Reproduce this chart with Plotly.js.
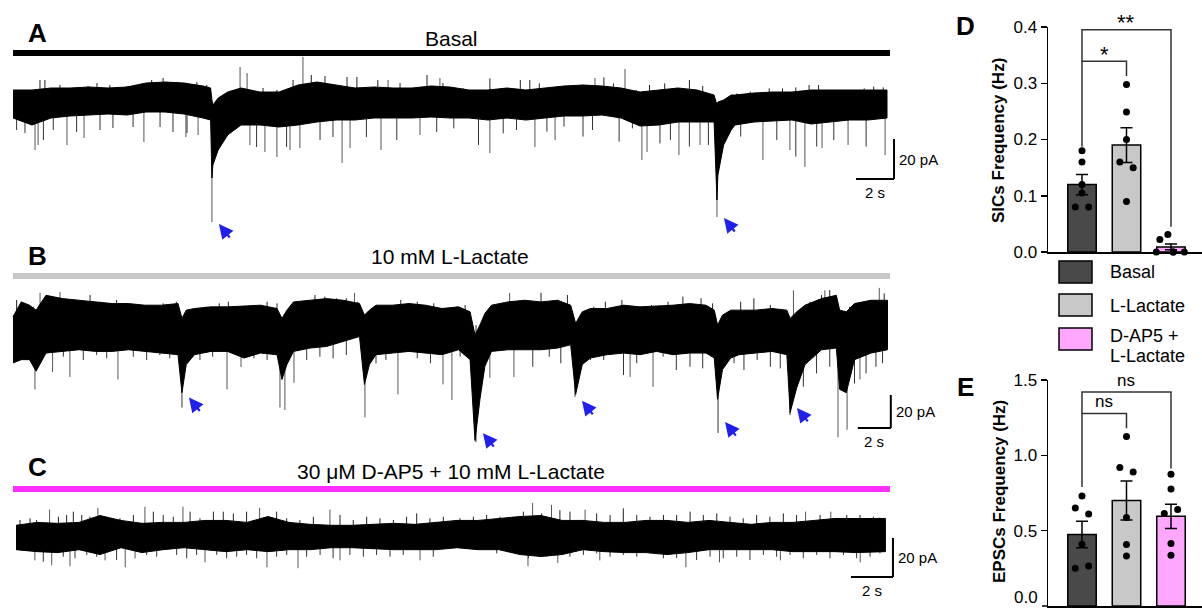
<!DOCTYPE html>
<html>
<head>
<meta charset="utf-8">
<script src="https://cdn.plot.ly/plotly-3.0.1.min.js"></script>
<style>html,body{margin:0;padding:0;background:#fff;}#chart{width:1202px;height:611px;}</style>
</head>
<body>
<div id="chart"></div>
<script>
// ---------------- DATA ----------------
// Panel A (Basal) trace envelope: time (s), upper / lower edge (pA)
const aT   = [0,1,2,3,4,5,6,7,8,9,10,10.4,10.47,10.52,10.8,11.3,12,13,14,15,16,17,18,19,20,21,22,23,24,25,26,27,28,29,30,31,32,33,34,35,36,36.9,37.05,37.1,37.4,37.8,38,39,40,41,42,43,44,45,46];
const aTop = [7,7,8,8,8.5,8,8.5,10.5,11,10.5,9,8,2,-0.5,3,6,8,6,6,9.5,11,9.5,8,8.5,8,8,9,8.5,7,7,8,7,8,9,9.5,9,8,6,7,8,7,4.5,-0.5,1,2,4.5,4.5,5.5,6,6,7,7,7,7,7];
const aBot = [-7,-10.5,-7,-6,-5.5,-5,-5.5,-4,-4,-5,-7,-8,-37,-30.5,-23,-15.5,-10.5,-10.5,-11.5,-10.5,-9,-8,-8,-7,-7,-7,-6.5,-7,-7,-8,-7,-8,-7,-6,-6,-5.5,-7,-11,-10.5,-9,-9,-9,-48,-35.5,-20.5,-13,-10.5,-9,-8.5,-8,-10,-9,-8,-8,-7];
// large individual events (time s, peak pA)
const aDownT = [1.16,1.32,2.84,3.74,6.89,9.1,9.74,12.47,13.26,13.89,14.58,15.1,17.32,17.74,19.37,21.42,25.1,27.47,28.53,33.1,33.37,35.05,36.16,39.47,40.89,41.68,42.58,43.95,45.9];
const aDownA = [-23,-20.5,-20.5,-17,-19,-16.5,-15.5,-20.5,-24,-26.5,-23,-22,-29.5,-22,-23,-15.5,-24.5,-21.5,-18,-28,-24,-25.5,-20.5,-28,-23,-31.5,-22,-20.5,-25.5];
const aUpT = [11.95,12.32,15.26,19.74,22.47,30.63,32.21];
const aUpA = [18.5,15.5,23.5,12,13,13,17.5];
// small noise peaks along the edges
const aEdgeUpT = [1.42,1.68,2.47,3.53,3.95,4.42,5.1,6,6.68,7.3,7.9,8.63,9.16,9.68,10.2,13.16,13.89,14.74,15.7,16.42,17.58,18.1,19.2,20.37,21.79,22.63,23.7,25.1,25.9,26.7,27.2,27.7,28.8,29.7,31.1,31.6,32.8,33.5,34.3,35.1,35.6,36.3,38.1,38.8,39.8,40.5,41.2,41.9,42.4,43.4,44.8,45.3,45.8];
const aEdgeUpA = [12,12,9.5,8.5,9,10.5,9.5,9,9.5,12,13,11,10.5,11,9.5,8,7,12,14.5,14,13.5,13.5,12,10.5,14.5,10.5,7.8,12.8,7.8,12,12,10.3,7.8,8.7,13.3,10.3,7,9.5,10.3,7.8,12,9,5.3,6.2,7.8,7.8,8.3,9.5,9.5,7,7.8,8.7,8.3];
const aEdgeDnT = [0.19,0.63,1.6,2.12,3.35,4.58,5.26,6.32,7.74,8.42,9.16,12.82,14.4,16.16,16.84,18.6,20.2,22.3,23.2,24.5,25.8,26.5,28.1,29,30,30.5,31.9,32.6,34.05,34.6,35.6,36.6,37.7,38.3,40.2,41.2,42.3,43.2,44.9];
const aEdgeDnA = [-13,-14.5,-18,-13,-14,-13,-12,-11.5,-11.5,-14,-14.5,-21.5,-21.5,-18,-16.5,-16.5,-18,-14,-12.2,-20.5,-14.7,-13,-13.8,-11.3,-16.3,-13,-18.8,-12.2,-19.7,-18,-21.3,-20.5,-14.7,-16.3,-18,-26.3,-21.3,-18,-21.3];
const aSicT = [10.47,37.05];
const aSicA = [-59,-56.5];

// Panel B (10 mM L-Lactate)
const bT   = [0,0.5,1,1.4,2,3,4,5,6,7,8,9,10,10.24,10.5,11,12,13,14,15,16,16.3,16.6,17,18,19,20,21,21.3,21.6,22,23,24,25,26,27,27.7,28,28.3,28.6,29,30,31,32,33,33.8,34.1,34.5,35,36,37,38,39,40,41,42,42.5,42.7,43,43.5,44,45,46,46.9,47.1,47.5,48,49,49.9,50.1,50.5,51,52,53];
const bTop = [5,14,12,9,18,16,15,14,13,13,12,12,13,4,9,10,11,11,11.5,12,10,4,9,14,15,16,15,13,6,9,12,12,13,12,10,11,8,-6,0,7,12,14,15,14,15,12,1,8,10,10,12,11,11.5,12,13,12,9,0,6,9,9,9,10,9,4,8,12,16,18,9,8,13,15,15];
const bBot = [-23,-21,-21,-28,-17,-16,-15,-16,-16,-15,-16,-17,-18,-41,-24,-18,-16,-16,-20,-17,-18,-33,-24,-16,-14,-13,-10,-7,-36,-24,-18,-17,-16,-17,-18,-15,-21,-70,-45,-25,-16,-15,-15,-15,-14,-12,-42,-24,-20,-18,-17,-18,-16,-18,-17,-17,-20,-45,-27,-20,-18,-17,-16,-18,-53,-38,-24,-15,-14,-39,-41,-21,-17,-15];
const bDownT = [1.33,2.4,3.45,6.36,12.97,13.82,16.18,16.48,17.03,21.33,23.33,26.06,26.6,28.9,30.36,37.4,38.79,50,50.55,51.33];
const bDownA = [-39,-28.5,-31.5,-33,-39,-25.5,-50,-51.5,-35,-56,-42,-36,-45.5,-32,-31.5,-31.5,-37.5,-68,-63.5,-33];
const bUpT = [1.64,2.85,20.7,30.1,47.3,49.2,52.5];
const bUpA = [19.5,20,19.5,19.5,21,21,22.5];
const bEdgeUpT = [0.22,0.73,1.23,2.04,3.35,3.96,4.67,5.27,5.88,6.28,6.89,7.7,8.4,9.1,9.9,10.9,11.7,12.5,13.05,13.76,14.6,15.4,16,17,17.6,18.3,18.9,19.6,20.2,20.9,21.8,22.6,23.5,24.5,25.5,26.9,27.4,29.1,30.8,32,32.5,33.6,34.6,35.2,35.9,36.9,37.8,38.7,39.7,40.6,41.7,42.4,43.3,44.1,44.9,45.9,46.7,47.7,48.3,49,49.5,50.7,51.5,52.8];
const bEdgeUpA = [15.2,13.1,11.1,18.2,14.1,13.1,18.2,14.1,13.1,15.2,13.1,12.1,11.1,13.1,14.1,8.1,11.1,13.1,14.1,11.1,12.1,14.1,13.1,11.1,13.1,18.2,17.2,16.2,16.2,14.1,8.1,12.1,15.2,14.1,13.1,11.1,12.1,11.1,13.1,19.6,13.1,18.2,8.1,11.1,14.1,15.2,11.1,12.1,14.1,17.2,16.2,13.1,6.1,14.1,16.2,12.1,9.1,8.1,14.1,18.2,21.2,11.1,13.1,19.2];
const bEdgeDnT = [1.84,3.05,4.26,5.07,5.68,7.29,8.1,8.9,9.5,11.33,12.1,14.6,15.4,17.8,18.6,19.4,20.2,22,22.6,24.5,25.3,27.1,31.5,32.5,33.2,35,35.8,37,37.8,39.4,40.2,41.03,41.8,43.7,44.3,45.1,45.9,46.5,47.9,48.7,49.5,51,51.7,52.3,52.7];
const bEdgeDnA = [-18.2,-19.2,-21.2,-18.2,-20.2,-19.2,-21.2,-18.2,-20.2,-21.2,-19.2,-20.2,-21.2,-21.2,-19.2,-20.2,-18.2,-23.2,-21.2,-20.2,-23.2,-19.2,-25.3,-19.2,-23.2,-21.2,-21.2,-30.3,-23.2,-19.2,-27.3,-25.3,-26.3,-23.2,-27.3,-21.2,-25.3,-26.3,-37.4,-29.3,-25.3,-35.4,-29.3,-25.3,-23.2];
const bSicT = [10.24,28.06,34.06,42.73,47.09];
const bSicA = [-50,-71,-43.5,-65.5,-54.5];

// Panel C (30 µM D-AP5 + 10 mM L-Lactate)
const cT   = [0,1,2,3,4,5,6,7,8,9,10,11,12,13,14,15,16,17,18,19,20,21,22,23,24,25,26,27,28,29,30,31,32,33,34,35,36,37,38,39,40,41.4];
const cTop = [6,7.5,7,7.5,11,8.5,7,7.5,7.5,8.5,8.5,7.5,10.5,7.5,6.5,6,6,6.5,7,6.5,7.5,8.5,8.5,9.5,10.5,11,8.5,8.5,7.5,7.5,8.5,8.5,7.5,8.5,7.5,6.5,7.5,7.5,8.5,9.5,9.5,9.5];
const cBot = [-6.5,-7.5,-8,-6.5,-9,-5.5,-8,-6.5,-5.5,-6.5,-7.5,-6.5,-7.5,-6.5,-6.5,-5.5,-5.5,-6,-6.5,-6.5,-6.5,-5.5,-6.5,-6.5,-9,-10,-9,-6.5,-7.5,-8,-8,-9,-8,-6.5,-6.5,-6.5,-6.5,-7.5,-7.5,-7.5,-8,-7.5];
const cDownT = [0.9,1.7,2.57,4.24,5.2,5.67,9,11.95,13.43,15.43,19.24,24.38,25.8,27.8,31.9,33.5,36.4,40.2];
const cDownA = [-12,-14.5,-15,-12,-15.5,-11,-13,-15.5,-16,-12,-12,-15,-13.3,-12,-15.5,-13,-12,-13];
const cUpT = [1.6,3.9,6.14,7.95,11.6,14.95,24.6,25.5,27.1,37.6,38.8,41.1];
const cUpA = [14,15,15.5,15.5,15,14,17.5,16.5,14,13,13,10];
const cEdgeUpT = [0.19,0.67,0.98,2.02,2.41,2.73,3.13,3.52,4.95,5.59,6.54,7.01,7.49,8.29,8.76,9.4,9.87,10.35,10.98,12.41,12.89,13.52,14.16,15.43,16.06,16.7,17.33,17.97,18.6,19.08,19.71,20.35,21.14,21.78,22.41,23.05,23.68,24.16,25.03,25.9,26.38,27.65,28.29,28.92,29.56,30.19,30.83,31.46,32.1,32.73,33.37,34,34.63,35.27,35.9,36.54,37.17,38.29,39.56,40.19,40.83];
const cEdgeUpA = [8.7,9.6,8.7,10.4,11.3,13,11.3,10.4,9.6,11.3,13,11.3,10.4,13,9.6,13,13,12.1,13,13,9.6,8.7,10.4,11.3,8.7,10.4,9.6,8.7,10.4,12.1,9.6,10.4,9.6,10.4,11.3,10.4,10.4,13,12.1,13.8,13,12.1,11.3,14.7,11.3,10.4,11.3,11.3,13,11.3,12.1,10.4,9.6,11.3,10.4,12.1,11.3,11.3,11.3,11.3,10.4];
const cEdgeDnT = [1.3,2.25,2.81,3.37,3.84,4.79,6.22,6.7,7.65,8.13,8.6,9.56,10.03,10.51,10.98,11.46,12.41,12.89,13.84,14.48,15.1,15.9,16.54,17.17,17.81,18.44,19.87,22.89,24.4,24.79,25.27,26.38,27.02,27.65,28.29,28.92,29.56,30.19,30.83,31.46,32.41,33.05,33.68,34.32,34.95,35.59,36.22,36.86,37.49,38.13,38.76,39.4,40.03,40.67,41.14];
const cEdgeDnA = [-12.7,-10.1,-10.9,-9.2,-10.1,-11.8,-9.2,-10.1,-9.2,-10.9,-9.2,-9.2,-10.9,-10.1,-9.2,-10.9,-10.1,-9.2,-10.1,-9.2,-10.9,-9.2,-10.1,-9.2,-10.1,-9.2,-10.1,-8.4,-10.9,-9.2,-10.1,-10.1,-9.2,-8.4,-10.1,-9.2,-10.1,-8.4,-10.9,-10.9,-11.8,-10.1,-10.9,-10.1,-11.8,-9.2,-10.1,-9.2,-10.9,-9.2,-10.9,-9.2,-10.9,-10.1,-8.4];

// Scale bar sizes
const SCALE_S = 2, SCALE_PA = 20;

// Panel D / E bar charts
const groups = ['Basal','L-Lactate','D-AP5 + L-Lactate'];
const sicMean = [0.12, 0.19, 0.009];
const sicSem  = [0.018, 0.031, 0.005];
const sicBasal = [0.18, 0.16, 0.12, 0.105, 0.08, 0.08];
const sicLact  = [0.298, 0.249, 0.2, 0.16, 0.15, 0.09];
const sicDap   = [0.031, 0.022, 0, 0, 0, 0];
const epscMean = [0.475, 0.70, 0.595];
const epscSem  = [0.088, 0.13, 0.08];
const epscBasal = [0.73, 0.65, 0.61, 0.41, 0.25, 0.265];
const epscLact  = [1.125, 0.92, 0.89, 0.587, 0.408, 0.332];
const epscDap   = [0.875, 0.776, 0.614, 0.64, 0.414, 0.337];
const yTicksD = [0, 0.1, 0.2, 0.3, 0.4];
const yTicksE = [0.5, 1.0, 1.5];

// ---------------- STYLE / LAYOUT ----------------
const W = 1202, H = 611;
const FONT = 'Liberation Sans, Arial, Helvetica, sans-serif';
const barColors = ['#494949', '#c8c8c8', '#ffa6ff'];
const jitD = [[0,0,0,0,-0.15,0.15],[0,0,0,-0.15,0.15,0],[-0.07,-0.25,-0.33,0.05,0.3,0.05]];
const jitE = [[0,-0.15,0.15,0,-0.15,0.15],[0,-0.15,0.15,0,0,0],[0,0,-0.15,0.15,0,0]];
const px = x => x / W;
const py = y => 1 - y / H;

function traceAxes(x0px, pps, yBasePx, ppa, yTopPx, yBotPx) {
  return {
    x: {domain: [0, 940 / W], range: [(0 - x0px) / pps, (940 - x0px) / pps], visible: false, fixedrange: true},
    y: {domain: [py(yBotPx), py(yTopPx)], range: [(yBasePx - yBotPx) / ppa, (yBasePx - yTopPx) / ppa], visible: false, fixedrange: true}
  };
}
const axA = traceAxes(13, 19, 104, 2, 10, 245);
const axB = traceAxes(13, 16.5, 325, 1.65, 245, 455);
const axC = traceAxes(16, 21, 537, 1.95, 455, 611);

function bandTrace(T, top, bot, xa, ya) {
  return {x: T.concat(T.slice().reverse()), y: top.concat(bot.slice().reverse()),
    xaxis: xa, yaxis: ya, type: 'scatter', mode: 'lines', fill: 'toself',
    fillcolor: '#000', line: {color: '#000', width: 1}, hoverinfo: 'skip'};
}
function spikeTrace(T, A, xa, ya, color, w) {
  const xs = [], ys = [];
  T.forEach((t, i) => { xs.push(t, t, null); ys.push(0, A[i], null); });
  return {x: xs, y: ys, xaxis: xa, yaxis: ya, type: 'scatter', mode: 'lines',
    line: {color: color, width: w || 1}, hoverinfo: 'skip'};
}

const traces = [];
traces.push(spikeTrace(aDownT, aDownA, 'x', 'y', '#555'));
traces.push(spikeTrace(aUpT, aUpA, 'x', 'y', '#555'));
traces.push(spikeTrace(aSicT, aSicA, 'x', 'y', '#555'));
traces.push(spikeTrace(aEdgeUpT, aEdgeUpA, 'x', 'y', '#222'));
traces.push(spikeTrace(aEdgeDnT, aEdgeDnA, 'x', 'y', '#333'));
traces.push(bandTrace(aT, aTop, aBot, 'x', 'y'));
traces.push(spikeTrace(bDownT, bDownA, 'x2', 'y2', '#555'));
traces.push(spikeTrace(bUpT, bUpA, 'x2', 'y2', '#555'));
traces.push(spikeTrace(bSicT, bSicA, 'x2', 'y2', '#333'));
traces.push(spikeTrace(bEdgeUpT, bEdgeUpA, 'x2', 'y2', '#222'));
traces.push(spikeTrace(bEdgeDnT, bEdgeDnA, 'x2', 'y2', '#333'));
traces.push(bandTrace(bT, bTop, bBot, 'x2', 'y2'));
traces.push(spikeTrace(cDownT, cDownA, 'x3', 'y3', '#555'));
traces.push(spikeTrace(cUpT, cUpA, 'x3', 'y3', '#555'));
traces.push(spikeTrace(cEdgeUpT, cEdgeUpA, 'x3', 'y3', '#222'));
traces.push(spikeTrace(cEdgeDnT, cEdgeDnA, 'x3', 'y3', '#333'));
traces.push(bandTrace(cT, cTop, cBot, 'x3', 'y3'));

function barSet(means, sems, pts, jit, xa, ya) {
  traces.push({type: 'bar', x: [0, 1, 2], y: means, xaxis: xa, yaxis: ya, width: 0.64,
    marker: {color: barColors, line: {color: '#000', width: 1.5}},
    error_y: {type: 'data', array: sems, visible: true, color: '#000', thickness: 1.5, width: 6},
    hoverinfo: 'skip'});
  pts.forEach((vals, g) => {
    traces.push({type: 'scatter', mode: 'markers', x: vals.map((v, i) => g + jit[g][i]), y: vals,
      xaxis: xa, yaxis: ya, cliponaxis: false, marker: {color: '#000', size: 7}, hoverinfo: 'skip'});
  });
}
barSet(sicMean, sicSem, [sicBasal, sicLact, sicDap], jitD, 'x4', 'y4');
barSet(epscMean, epscSem, [epscBasal, epscLact, epscDap], jitE, 'x5', 'y5');

const shapes = [];
[[53, '#000'], [276, '#c8c8c8'], [489, '#ff2eff']].forEach(([y, c]) => {
  shapes.push({type: 'line', xref: 'paper', yref: 'paper', x0: px(13), x1: px(890), y0: py(y), y1: py(y),
    line: {color: c, width: 6}});
});
const scaleBars = [
  {xa: 'x', ya: 'y', t: 46.37, p: -37.5},
  {xa: 'x2', ya: 'y2', t: 53.2, p: -62.4},
  {xa: 'x3', ya: 'y3', t: 41.76, p: -20.5}
];
const annotations = [];
scaleBars.forEach(s => {
  shapes.push({type: 'line', xref: s.xa, yref: s.ya, x0: s.t - SCALE_S, x1: s.t, y0: s.p, y1: s.p, line: {color: '#000', width: 2}});
  shapes.push({type: 'line', xref: s.xa, yref: s.ya, x0: s.t, x1: s.t, y0: s.p, y1: s.p + SCALE_PA, line: {color: '#000', width: 2}});
  annotations.push({xref: s.xa, yref: s.ya, x: s.t, y: s.p + SCALE_PA / 2, text: SCALE_PA + ' pA', showarrow: false,
    xanchor: 'left', yanchor: 'middle', xshift: 3, font: {family: FONT, size: 15, color: '#000'}});
  annotations.push({xref: s.xa, yref: s.ya, x: s.t - SCALE_S / 2, y: s.p, text: SCALE_S + ' s', showarrow: false,
    xanchor: 'center', yanchor: 'top', yshift: -3, font: {family: FONT, size: 15, color: '#000'}});
});
function bracket(xa, ya, pts) {
  shapes.push({type: 'path', xref: xa, yref: ya,
    path: 'M' + pts.map(p => p[0] + ',' + p[1]).join(' L'), line: {color: '#333', width: 1.5}});
}
bracket('x4', 'y4', [[0, 0.187], [0, 0.339], [1, 0.339], [1, 0.313]]);
bracket('x4', 'y4', [[0, 0.339], [0, 0.395], [2, 0.395], [2, 0.045]]);
bracket('x5', 'y5', [[0, 0.79], [0, 1.278], [1, 1.278], [1, 1.18]]);
bracket('x5', 'y5', [[0, 1.278], [0, 1.42], [2, 1.42], [2, 0.913]]);
const legY = [272, 305, 339];
legY.forEach((y, i) => {
  shapes.push({type: 'rect', xref: 'paper', yref: 'paper', x0: px(1059), x1: px(1092), y0: py(y + 11), y1: py(y - 11),
    fillcolor: barColors[i], line: {color: '#000', width: 1.5}});
});
// E axis: zero tick mark (its label is placed as text just above the bottom edge)
shapes.push({type: 'line', xref: 'paper', yref: 'paper', x0: px(1042), x1: px(1048), y0: py(606), y1: py(606), line: {color: '#000', width: 1.5}});

function txt(x, y, text, size, opts) {
  annotations.push(Object.assign({xref: 'paper', yref: 'paper', x: px(x), y: py(y), text: text, showarrow: false,
    xanchor: 'center', yanchor: 'middle', font: {family: FONT, size: size, color: '#000'}}, opts || {}));
}
txt(37, 33, '<b>A</b>', 26);
txt(37, 256, '<b>B</b>', 26);
txt(37, 467, '<b>C</b>', 26);
txt(966, 26, '<b>D</b>', 26);
txt(966, 387, '<b>E</b>', 26);
txt(451, 38, 'Basal', 21);
txt(450, 256, '10 mM L-Lactate', 21);
txt(451, 471, '30 \u03bcM D-AP5 + 10 mM L-Lactate', 21);
txt(998, 141, '<b>SICs Frequency (Hz)</b>', 17, {textangle: -90});
txt(999, 492, '<b>EPSCs Frequency (Hz)</b>', 17, {textangle: -90});
txt(1108, 272, 'Basal', 18, {xanchor: 'left'});
txt(1108, 306, 'L-Lactate', 18, {xanchor: 'left'});
txt(1108, 336, 'D-AP5 +', 18, {xanchor: 'left'});
txt(1108, 356, 'L-Lactate', 18, {xanchor: 'left'});
txt(1040, 609, (0).toFixed(1), 17, {xanchor: 'right', yanchor: 'bottom'});
annotations.push({xref: 'x4', yref: 'y4', x: 0.5, y: 0.339, text: '*', showarrow: false, yanchor: 'bottom', yshift: -8, font: {family: FONT, size: 22, color: '#000'}});
annotations.push({xref: 'x4', yref: 'y4', x: 1, y: 0.395, text: '**', showarrow: false, yanchor: 'bottom', yshift: -7, font: {family: FONT, size: 22, color: '#000'}});
annotations.push({xref: 'x5', yref: 'y5', x: 0.5, y: 1.278, text: 'ns', showarrow: false, yanchor: 'bottom', yshift: 0, font: {family: FONT, size: 17, color: '#000'}});
annotations.push({xref: 'x5', yref: 'y5', x: 1, y: 1.42, text: 'ns', showarrow: false, yanchor: 'bottom', yshift: 0, font: {family: FONT, size: 17, color: '#000'}});
function arrows(T, A, xa, ya, dy) {
  T.forEach((t, i) => annotations.push({xref: xa, yref: ya, x: t, y: A[i], text: '', showarrow: true,
    ax: 12, ay: 15, xshift: 7, yshift: dy[i], arrowhead: 2, arrowsize: 1.3, arrowwidth: 2.2, arrowcolor: '#2020ee', standoff: 0}));
}
arrows(aSicT, aSicA, 'x', 'y', [-2, -1]);
arrows(bSicT, bSicA, 'x2', 'y2', [10, 9, -4, 11, 7]);

const barX = {range: [-0.764, 2.697], showline: true, linecolor: '#000', linewidth: 1.5, ticks: '', showticklabels: false,
  showgrid: false, zeroline: false, fixedrange: true};
const barY = (dom, rng, ticks, anchor) => ({domain: dom, range: rng, tickvals: ticks, ticktext: ticks.map(v => v.toFixed(1)),
  ticks: 'outside', ticklen: 6, tickwidth: 1.5, tickcolor: '#000', showline: true, linecolor: '#000', linewidth: 1.5,
  showgrid: false, zeroline: false, tickfont: {family: FONT, size: 17, color: '#000'}, anchor: anchor, fixedrange: true});

const layout = {
  width: W, height: H, margin: {l: 0, r: 0, t: 0, b: 0}, paper_bgcolor: '#fff', plot_bgcolor: 'rgba(0,0,0,0)',
  showlegend: false, font: {family: FONT},
  xaxis: Object.assign({anchor: 'y'}, axA.x), yaxis: Object.assign({anchor: 'x'}, axA.y),
  xaxis2: Object.assign({anchor: 'y2'}, axB.x), yaxis2: Object.assign({anchor: 'x2'}, axB.y),
  xaxis3: Object.assign({anchor: 'y3'}, axC.x), yaxis3: Object.assign({anchor: 'x3'}, axC.y),
  xaxis4: Object.assign({domain: [px(1048), 1], anchor: 'y4'}, barX),
  yaxis4: barY([py(252), py(27)], [0, 0.4], yTicksD, 'x4'),
  xaxis5: Object.assign({domain: [px(1048), 1], anchor: 'y5'}, barX),
  yaxis5: barY([py(606), py(380)], [0, 1.5], yTicksE, 'x5'),
  shapes: shapes, annotations: annotations, bargap: 0
};
Plotly.newPlot('chart', traces, layout, {displayModeBar: false, staticPlot: true});
</script>
</body>
</html>
